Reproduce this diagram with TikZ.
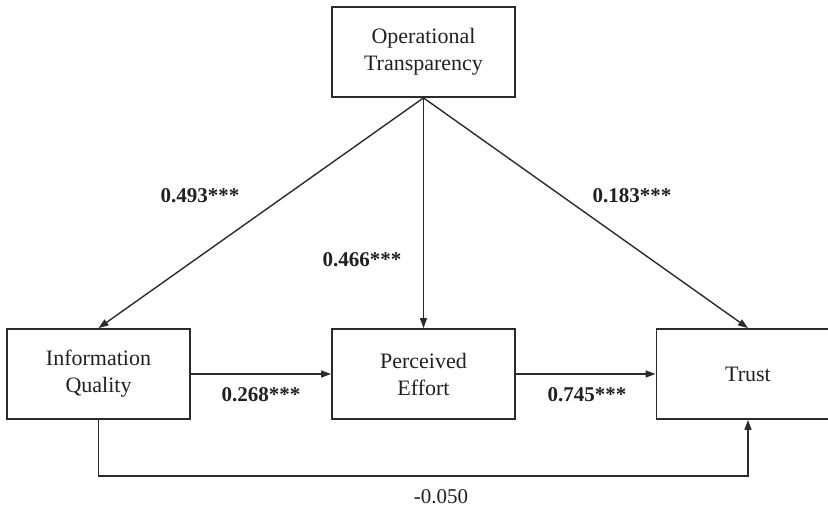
\documentclass[tikz,border=0pt]{standalone}
\usepackage{fontspec}
\setmainfont{Liberation Serif}
\usepackage{xcolor}
\usepackage{tikz}
\usetikzlibrary{arrows.meta,positioning}
\definecolor{inkc}{HTML}{231F20}
\definecolor{linec}{HTML}{2B2B2B}
\tikzset{
  ar/.style={-{Triangle[length=10pt,width=7pt]},line width=1.4pt,linec},
  box/.style={draw=linec,line width=1.8pt,align=center,inner sep=0pt,minimum width=183pt,minimum height=90pt,text=inkc,font=\fontsize{22}{27}\selectfont},
  coef/.style={text=inkc,font=\fontsize{21}{24}\selectfont\bfseries},
  plain/.style={text=inkc,font=\fontsize{21}{24}\selectfont}
}
\begin{document}
\begin{tikzpicture}[x=1pt,y=1pt]
\useasboundingbox (0,0) rectangle (828,512);
\begin{scope}
\clip (0,0) rectangle (828,512);
% boxes
\node[box] (ot) at (423.5,460) {Operational\\Transparency};
\node[box] (iq) at (98.5,138) {Information\\Quality};
\node[box] (pe) at (423.5,138) {Perceived\\Effort};
\node[box] (trust) at (748,138) {Trust};
% paths
\draw[ar] (ot.south) -- (iq.north);
\draw[ar] (ot.south) -- (pe.north);
\draw[ar] (ot.south) -- (trust.north);
\draw[ar] (iq.east) -- (pe.west);
\draw[ar] (pe.east) -- (trust.west);
\draw[ar] (iq.south) -- ++(0,-56) -| (trust.south);
\end{scope}
% coefficients
\node[coef] (c1) at (200,316) {0.493***};
\node[coef] (c2) at (362,252) {0.466***};
\node[coef] (c3) at (632,316) {0.183***};
\node[coef] (c4) at (261,117) {0.268***};
\node[coef] (c5) at (587,117) {0.745***};
\node[plain] (c6) at (441,15) {-0.050};
\end{tikzpicture}
\end{document}
